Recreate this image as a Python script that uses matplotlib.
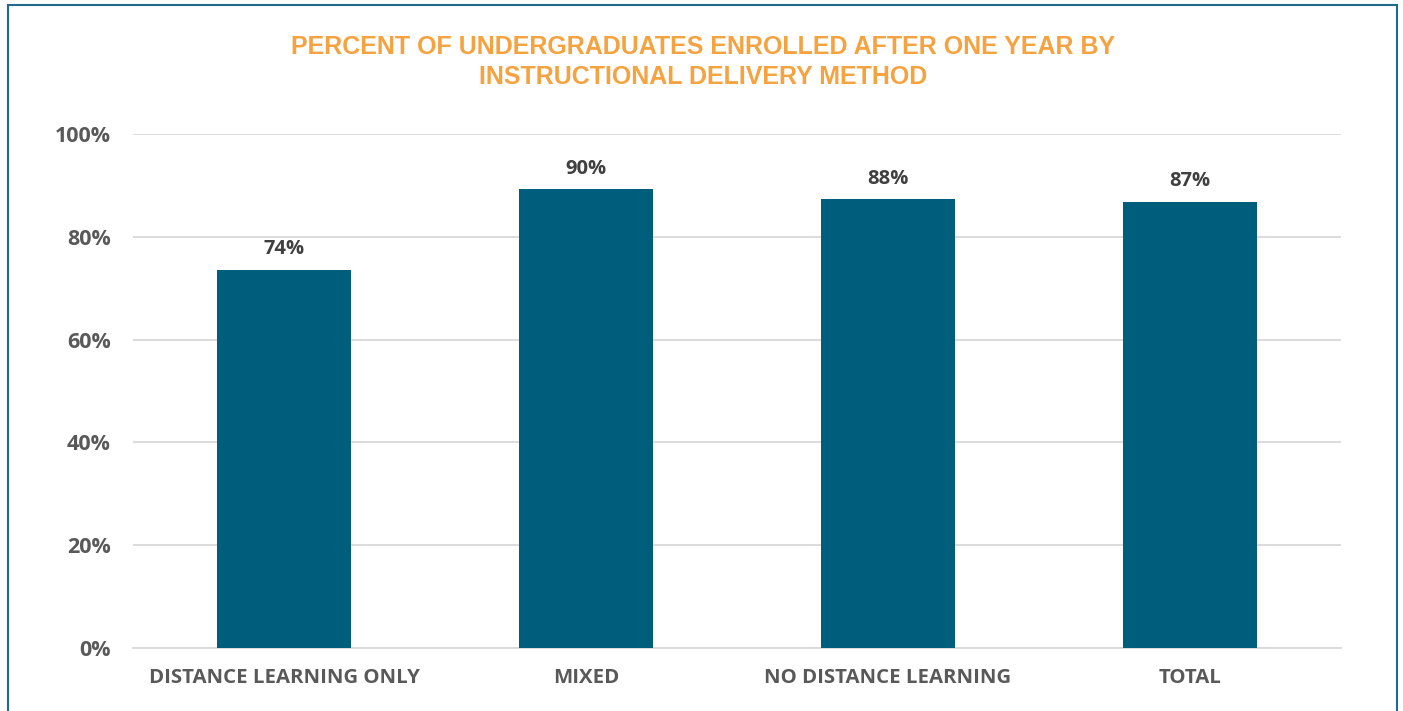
import matplotlib
matplotlib.use("Agg")
import matplotlib.pyplot as plt
from matplotlib.patches import Rectangle
from matplotlib.ticker import PercentFormatter

categories = ["DISTANCE LEARNING ONLY", "MIXED", "NO DISTANCE LEARNING", "TOTAL"]
enrolled = [0.736, 0.893, 0.873, 0.868]
value_labels = ["74%", "90%", "88%", "87%"]
yticks = [0, 0.2, 0.4, 0.6, 0.8, 1.0]

BAR = "#005E7D"
TITLE = "#F5A241"
GRID = "#D9D9D9"
TICK = "#595959"

plt.rcParams["font.family"] = ["Open Sans", "DejaVu Sans"]

fig = plt.figure(figsize=(14.03, 7.11), dpi=100)
ax = fig.add_axes([0.0948, 0.0886, 0.861, 0.7229])

x = range(len(categories))
ax.bar(x, enrolled, width=0.444, color=BAR, zorder=3)
for xi, v, lab in zip(x, enrolled, value_labels):
    ax.annotate(lab, (xi, v), textcoords="offset points", xytext=(0, 7.5),
                ha="center", va="bottom", fontsize=14.5, fontweight="bold",
                color="#404040")

ax.set_xlim(-0.5, len(categories) - 0.5)
ax.set_ylim(0, 1.0)
ax.set_yticks(yticks)
ax.yaxis.set_major_formatter(PercentFormatter(1.0, decimals=0))
ax.set_xticks(list(x))
ax.set_xticklabels(categories)
ax.grid(axis="y", color=GRID, lw=1.3, zorder=0)
for s in ("top", "right", "left"):
    ax.spines[s].set_visible(False)
ax.spines["bottom"].set_color(GRID)
ax.spines["bottom"].set_linewidth(1.3)
ax.tick_params(axis="both", length=0, labelcolor=TICK)
ax.tick_params(axis="y", pad=16, labelsize=15.5)
ax.tick_params(axis="x", pad=14.5, labelsize=14.7)
for t in ax.get_xticklabels() + ax.get_yticklabels():
    t.set_fontweight("bold")

fig.text(0.501, 0.913,
         "PERCENT OF UNDERGRADUATES ENROLLED AFTER ONE YEAR BY\n"
         "INSTRUCTIONAL DELIVERY METHOD",
         ha="center", va="center", fontsize=18, fontweight="bold",
         color=TITLE, linespacing=1.32, family=["Liberation Sans", "DejaVu Sans"])

fig.patches.append(Rectangle((7.5 / 1403, -0.05), (1397 - 7.5) / 1403, 1.05 - 4.5 / 711,
                             transform=fig.transFigure, fill=False,
                             edgecolor="#1F6B8C", lw=1.5))

fig.savefig("out.png", dpi=100)
